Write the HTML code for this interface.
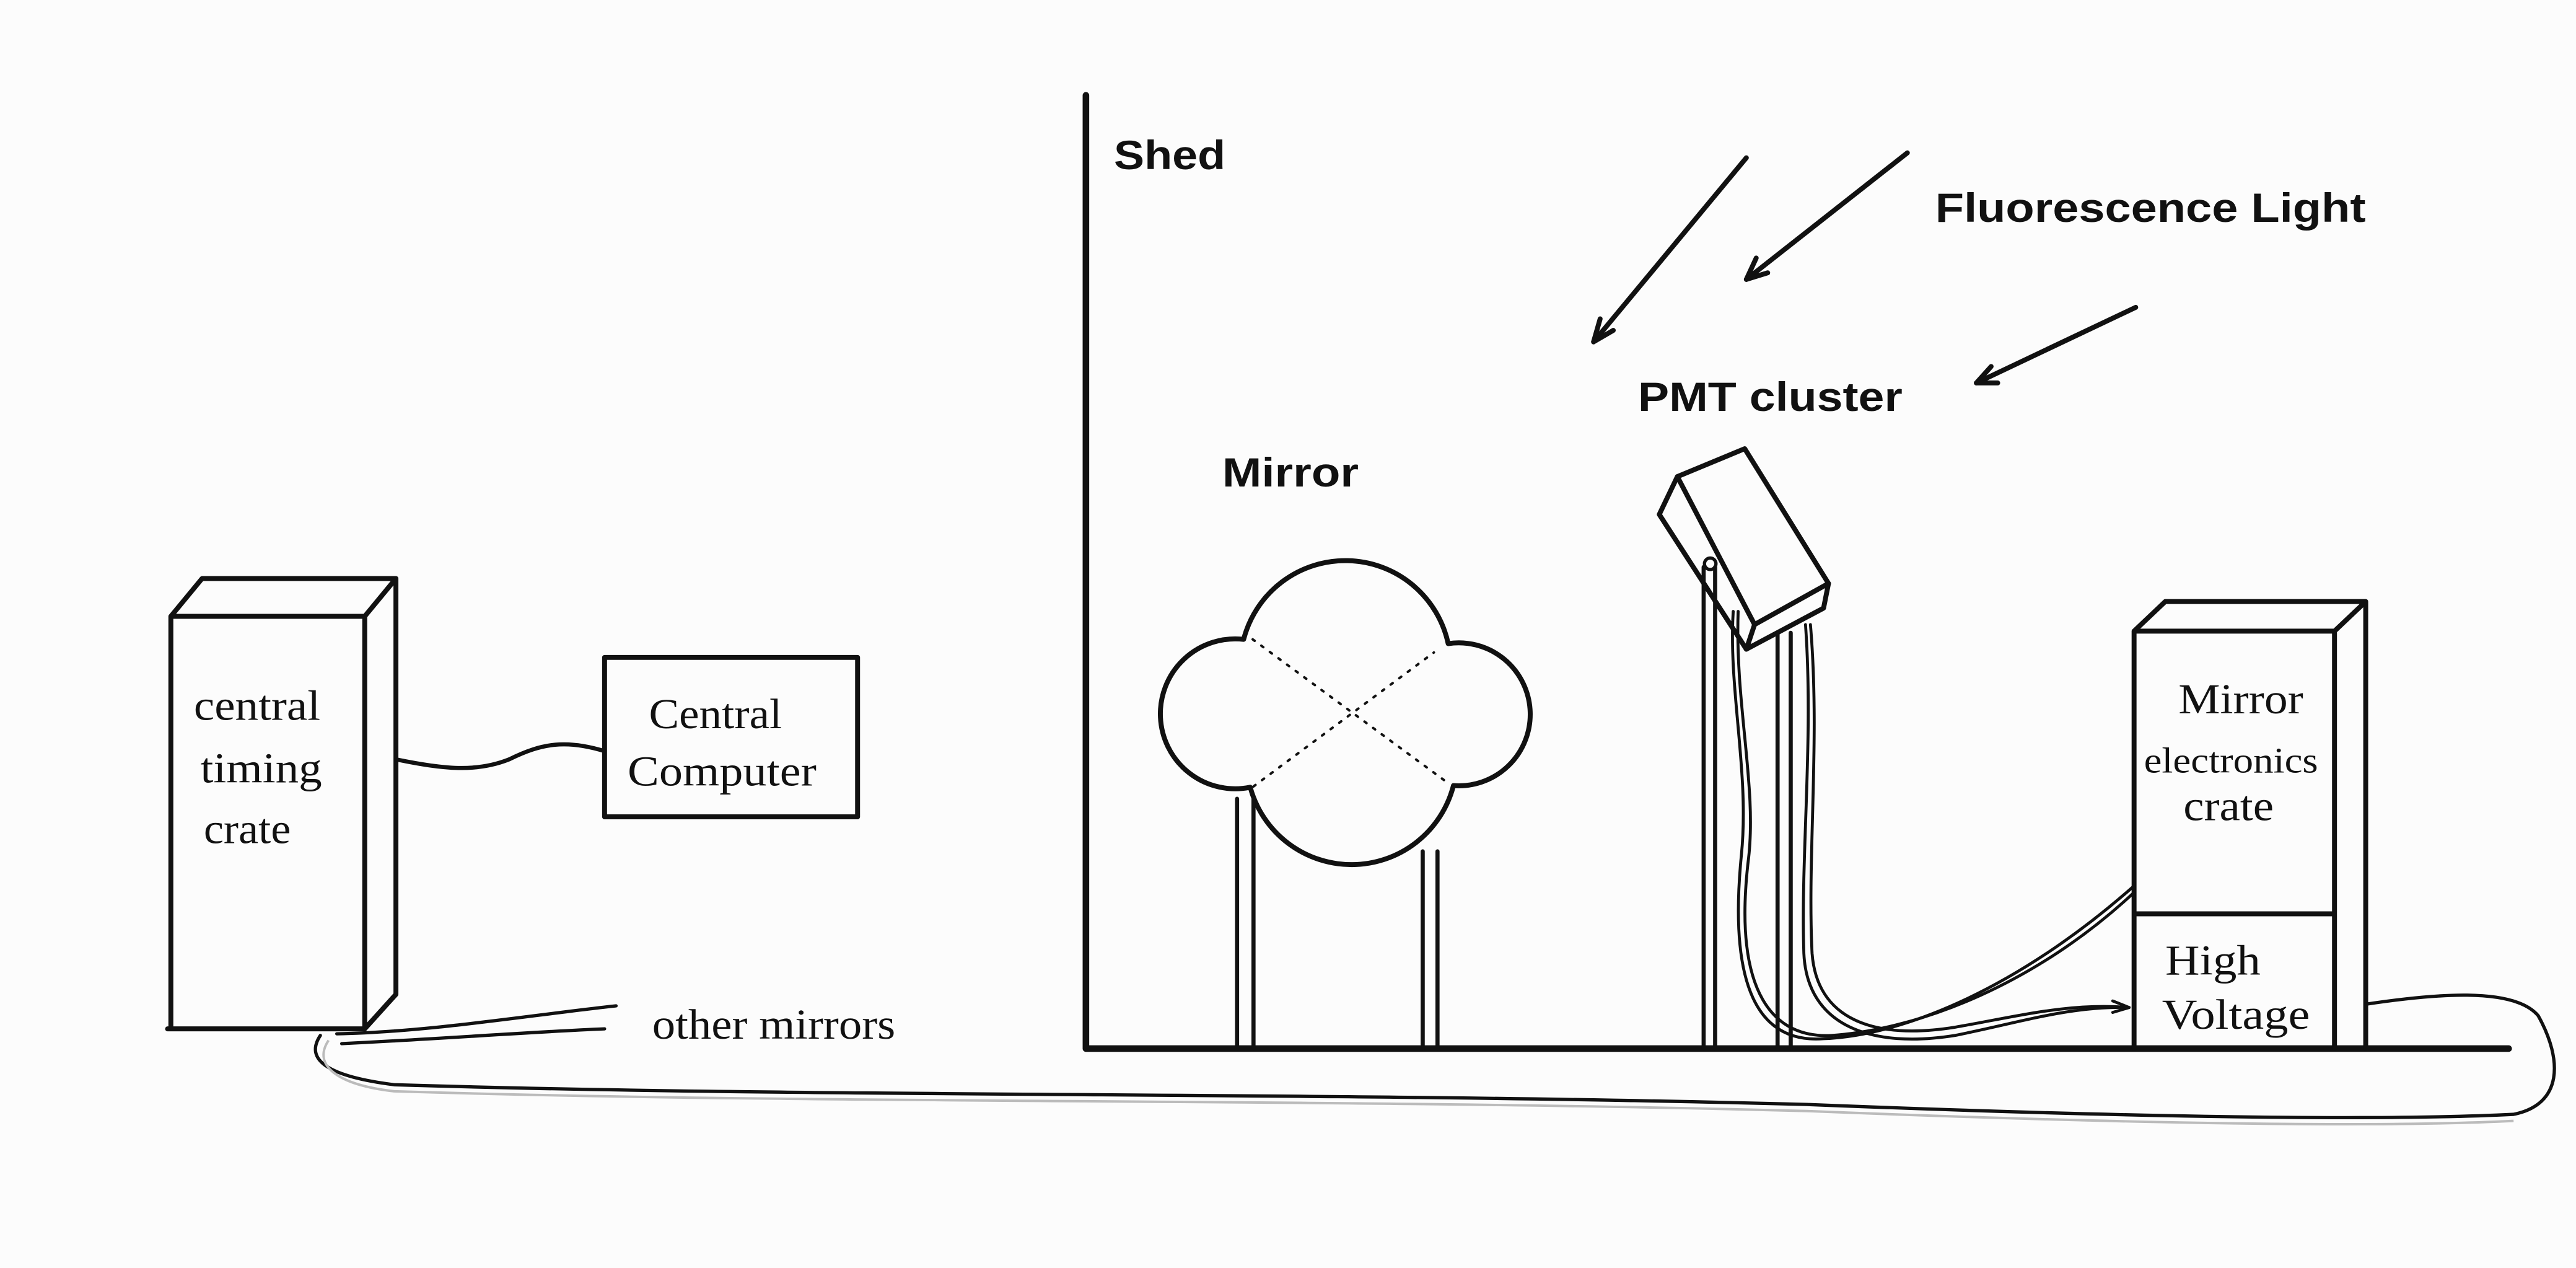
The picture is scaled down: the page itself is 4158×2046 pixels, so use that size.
<!DOCTYPE html>
<html><head><meta charset="utf-8"><style>
html,body{margin:0;padding:0;background:#fcfcfc;}
svg{display:block;}
.s{font-family:"Liberation Serif",serif;font-size:26px;fill:#111;}
.b{font-family:"Liberation Sans",sans-serif;font-weight:bold;font-size:25px;fill:#111;}
</style></head><body>
<svg width="4158" height="2046" viewBox="0 0 1568 771.5" preserveAspectRatio="none" xmlns="http://www.w3.org/2000/svg">
<rect width="1568" height="771.5" fill="#fcfcfc"/>
<g fill="none" stroke="#111" stroke-width="3" stroke-linejoin="round" stroke-linecap="round">
<path d="M661 58 V638 H1527" stroke-width="4"/>
<path d="M1063 96 L970 208"/><path d="M970 208 l4 -14 M970 208 l12 -7" />
<path d="M1161 93 L1063 170"/><path d="M1063 170 l6 -13 M1063 170 l13 -4"/>
<path d="M1300 187 L1203 233"/><path d="M1203 233 l9 -10 M1203 233 l13 0"/>
<!-- mirror cloud -->
<path d="M757 389 A64 64 0 0 1 881.5 391.6 A43.5 43.5 0 1 1 884.7 478 A64 64 0 0 1 761 479 A45.6 45.6 0 1 1 757 389 Z"/>
<g stroke-width="1.5" stroke-dasharray="1.5 5"><path d="M762.5 389 L881.5 476.5"/><path d="M763 478.5 L872.8 397"/></g>
<path d="M753 486 V638 M763 486 V638 M866 518 V638 M875 518 V638" stroke-width="2.5"/>
<!-- PMT -->
<path d="M1021 290 L1062 273 L1113 355 L1068 380 Z"/>
<path d="M1021 290 L1010 313 L1063 395 L1068 380"/>
<path d="M1113 355 L1110 370 L1063 395"/>
<path d="M1037 345 V638 M1044 345 V638 M1082 385 V638 M1090 385 V638" stroke-width="2.5"/>
<circle cx="1041" cy="343" r="3.5" stroke-width="2"/>
<g stroke-width="1.8">
<path d="M1055 372 C1052 420 1065 470 1060 520 C1052 600 1070 635 1110 632 C1160 630 1230 600 1299 539"/>
<path d="M1058 372 C1056 430 1070 480 1064 525 C1055 605 1080 632 1115 630 C1170 626 1240 598 1299 543"/>
<path d="M1099 380 C1104 450 1096 520 1098 580 C1100 625 1140 638 1190 630 C1230 622 1260 612 1296 613"/>
<path d="M1102 380 C1108 450 1100 520 1103 580 C1106 620 1140 633 1190 625 C1230 618 1260 610 1296 613"/>
<path d="M1296 613 l-10 -4 M1296 613 l-10 3"/>
</g>
<path d="M1299 638 V384 H1421 V638 M1299 384 L1318 366 H1440 V638 M1421 384 L1440 366 M1299 556 H1421"/>
<path d="M104 626 V375 H222 V626 M104 375 L123 352 H241 V605 L222 626 M222 375 L241 352 M102 626 H222"/>
<rect x="368" y="400" width="154" height="97"/>
<path d="M241 462 C270 468 290 470 310 462 C330 452 345 450 368 457" stroke-width="2.5"/>
<path d="M205 629 C260 628 320 618 375 612" stroke-width="2"/>
<path d="M208 635 C270 632 320 628 368 626" stroke-width="2"/>
<path d="M195 630 C185 645 200 655 240 660 C500 668 800 664 1100 672 C1300 680 1450 682 1530 678 C1560 672 1560 645 1545 618 C1530 600 1480 605 1440 611" stroke-width="2"/>
</g>
<g stroke="#bbb" stroke-width="1.5" fill="none">
<path d="M200 633 C190 648 205 660 240 664 C500 672 800 668 1100 676 C1300 684 1450 686 1530 682"/>
</g>
<text class="b" x="678" y="103" textLength="68" lengthAdjust="spacingAndGlyphs">Shed</text>
<text class="b" x="1178" y="135" textLength="262" lengthAdjust="spacingAndGlyphs">Fluorescence Light</text>
<text class="b" x="997" y="250" textLength="161" lengthAdjust="spacingAndGlyphs">PMT cluster</text>
<text class="b" x="744" y="296" textLength="83" lengthAdjust="spacingAndGlyphs">Mirror</text>
<text class="s" x="118" y="438" textLength="77" lengthAdjust="spacingAndGlyphs">central</text>
<text class="s" x="122" y="476" textLength="74" lengthAdjust="spacingAndGlyphs">timing</text>
<text class="s" x="124" y="513" textLength="53" lengthAdjust="spacingAndGlyphs">crate</text>
<text class="s" x="395" y="443" textLength="81" lengthAdjust="spacingAndGlyphs">Central</text>
<text class="s" x="382" y="478" textLength="115" lengthAdjust="spacingAndGlyphs">Computer</text>
<text class="s" x="397" y="632" textLength="148" lengthAdjust="spacingAndGlyphs">other mirrors</text>
<text class="s" x="1326" y="434" textLength="76" lengthAdjust="spacingAndGlyphs">Mirror</text>
<text class="s" x="1305" y="470" style="font-size:22px" textLength="106" lengthAdjust="spacingAndGlyphs">electronics</text>
<text class="s" x="1329" y="499" textLength="55" lengthAdjust="spacingAndGlyphs">crate</text>
<text class="s" x="1318" y="593" textLength="58" lengthAdjust="spacingAndGlyphs">High</text>
<text class="s" x="1316" y="626" textLength="90" lengthAdjust="spacingAndGlyphs">Voltage</text>
</svg>
</body></html>
